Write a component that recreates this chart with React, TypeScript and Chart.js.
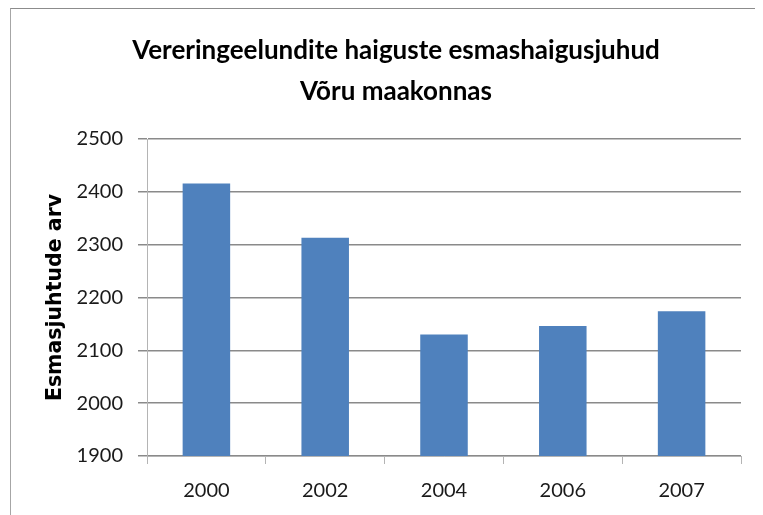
import React, { useEffect, useRef } from "react";
import { Chart, registerables } from "chart.js";

Chart.register(...registerables);

const categories = ["2000", "2002", "2004", "2006", "2007"];
const values = [2416, 2313, 2130, 2146, 2174];
const titleLines = ["Vereringeelundite haiguste esmashaigusjuhud", "Võru maakonnas"];
const yAxisTitle = "Esmasjuhtude arv";
const yMin = 1900;
const yMax = 2500;
const yStep = 100;

const titlePlugin = {
  id: "twoLineTitle",
  afterDraw(chart: any) {
    const ctx = chart.ctx;
    ctx.save();
    ctx.fillStyle = "#000000";
    ctx.font = "bold 26px Lato";
    ctx.textAlign = "center";
    ctx.textBaseline = "middle";
    const cx = 385;
    titleLines.forEach((line, i) => {
      ctx.fillText(line, cx, 42 + i * 41);
    });
    ctx.restore();
  },
};

export default function App() {
  const ref = useRef<HTMLCanvasElement | null>(null);

  useEffect(() => {
    document.body.style.overflow = "hidden";
    const canvas = ref.current;
    if (!canvas) return;
    const chart = new Chart(canvas, {
      type: "bar",
      data: {
        labels: categories,
        datasets: [
          {
            data: values,
            backgroundColor: "#4F81BD",
            borderWidth: 0,
            barPercentage: 0.4,
            categoryPercentage: 1,
          },
        ],
      },
      options: {
        responsive: false,
        animation: false,
        devicePixelRatio: 1,
        layout: { padding: { left: 0, right: 22, top: 130, bottom: 0 } },
        plugins: {
          legend: { display: false },
          tooltip: { enabled: false },
          title: { display: false },
        },
        scales: {
          x: {
            offset: true,
            grid: {
              offset: true,
              drawOnChartArea: false,
              drawTicks: true,
              tickLength: 8,
              color: "#b4b4b4",
            },
            border: { display: true, color: "#b4b4b4" },
            ticks: {
              color: "#1a1a1a",
              font: { family: "Lato", size: 20 },
              padding: 15,
            },
            afterFit: (scale: any) => {
              scale.height = 59;
            },
          },
          y: {
            min: yMin,
            max: yMax,
            ticks: {
              stepSize: yStep,
              color: "#1a1a1a",
              font: { family: "Lato", size: 20 },
              padding: 15,
              callback: (v: any) => String(v),
            },
            grid: {
              color: "#8a8a8a",
              tickLength: 9,
              lineWidth: 1.5,
            },
            border: { display: true, color: "#b4b4b4" },
            title: {
              display: true,
              text: yAxisTitle,
              color: "#000000",
              font: { family: "DejaVu Sans", size: 20.5, weight: "bold" },
              padding: { top: 32, bottom: 0 },
            },
            afterFit: (scale: any) => {
              scale.width = 136;
            },
          },
        },
      },
      plugins: [titlePlugin],
    });
    return () => chart.destroy();
  }, []);

  return (
    <div
      style={{
        marginLeft: 2,
        width: 752,
        height: 506,
        borderTop: "1px solid #8c8c8c",
        borderLeft: "1px solid #a6a6a6",
        background: "#ffffff",
      }}
    >
      <canvas ref={ref} width={752} height={506} style={{ display: "block" }} />
    </div>
  );
}
